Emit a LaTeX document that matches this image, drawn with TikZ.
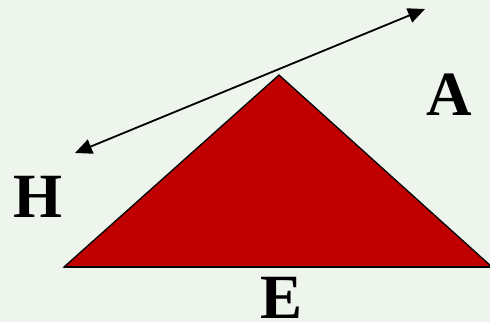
\documentclass[tikz,border=0pt]{standalone}
\usepackage{fontspec}
\setmainfont{Liberation Serif}[BoldFont={Liberation Serif Bold}]
\usepackage{xcolor}
\usetikzlibrary{arrows.meta}
\definecolor{bgmint}{HTML}{EEF5EC}
\definecolor{prismred}{HTML}{C00000}

\begin{document}
\begin{tikzpicture}[
    x=1pt, y=-1pt,
    face/.style={fill=prismred, draw=black, line width=1.3pt, line join=miter},
    base/.style={draw=black, line width=2.4pt},
    ray/.style={{Triangle[length=17pt,width=15pt]}-{Triangle[length=17pt,width=15pt]},
        line width=1.8pt, black},
    lbl/.style={font=\bfseries\fontsize{63}{63}\selectfont, inner sep=0pt, anchor=base},
]

% ── Background ──
\fill[bgmint] (0,0) rectangle (490,322);
\useasboundingbox (0,0) rectangle (490,322);

% ── Corners ──
\coordinate (hleft) at (64,267);
\coordinate (apex)  at (279,75);
\coordinate (hright) at (492,267);

% ── Triangle ──
\filldraw[face] (hleft) -- (apex) -- (hright) -- cycle;
\draw[base] (hleft) -- (hright);

% ── Double arrow ──
\coordinate (tipH) at (75,153);
\coordinate (tipA) at (425,9);
\draw[ray] (tipH) -- (tipA);

% ── Labels ──
\node[lbl] (labH) at (38,217)  {H};
\node[lbl] (labA) at (449,115) {A};
\node[lbl] (labE) at (282,318) {E};

\end{tikzpicture}
\end{document}
